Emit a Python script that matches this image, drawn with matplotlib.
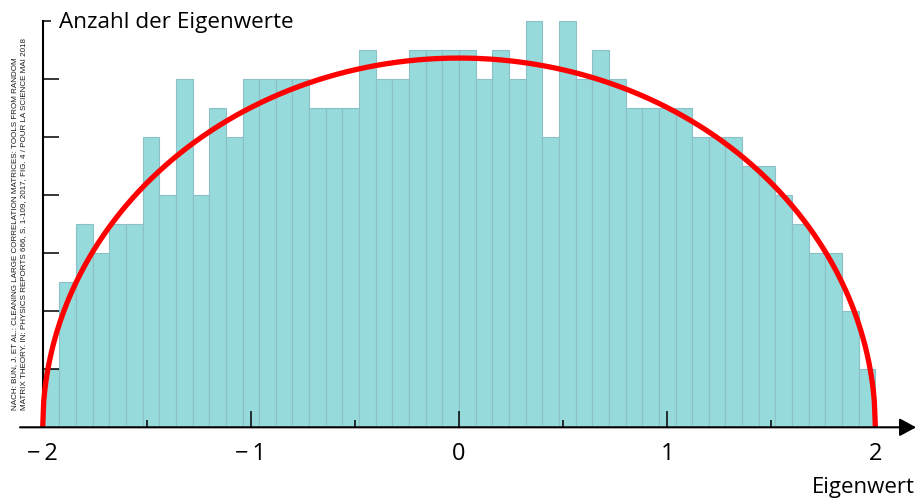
import numpy as np
import matplotlib
matplotlib.use('Agg')
import matplotlib.pyplot as plt
from matplotlib import font_manager

# ---------------- data ----------------
counts = [2, 5, 7, 6, 7, 7, 10, 8, 12, 8, 11, 10, 12, 12, 12, 12, 11, 11, 11, 13,
          12, 12, 13, 13, 13, 13, 12, 13, 12, 14, 10, 14, 12, 13, 12, 11, 11, 11, 11, 10,
          10, 10, 9, 9, 8, 7, 6, 6, 4, 2]
edge_lo, edge_hi = -2.0, 2.0
xtick_vals = [-2, -1, 0, 1, 2]
xtick_labels = ['\u2212\u20092', '\u2212\u20091', '0', '1', '2']
xminor_vals = [-1.5, -0.5, 0.5, 1.5]
ytick_vals = [2, 4, 6, 8, 10, 12]
ytop_val = 14
title = 'Anzahl der Eigenwerte'
xlabel = 'Eigenwert'
source_lines = [
    'NACH: BUN, J. ET AL.: CLEANING LARGE CORRELATION MATRICES: TOOLS FROM RANDOM',
    'MATRIX THEORY. IN: PHYSICS REPORTS 666, S. 1-109, 2017, FIG. 4 / POUR LA SCIENCE MAI 2018',
]

# ---------------- fonts ----------------
names = {f.name for f in font_manager.fontManager.ttflist}
main_font = ['Open Sans', 'Liberation Sans', 'DejaVu Sans']
narrow_font = ['Liberation Sans Narrow', 'Liberation Sans', 'DejaVu Sans'] \
    if 'Liberation Sans Narrow' in names else ['Liberation Sans', 'DejaVu Sans']
plt.rcParams['font.family'] = main_font

W, H = 917, 498
fig = plt.figure(figsize=(W / 100, H / 100), dpi=100)
ax = fig.add_axes([20 / W, 70.7 / H, (W - 20) / W, (H - 70.7) / H])
ax.set_xlim(-2.109, 2.2)
ax.set_ylim(0, (H - 70.7) / 29.0)

counts_arr = np.array(counts, dtype=float)
edges = np.linspace(edge_lo, edge_hi, len(counts) + 1)
bw = edges[1] - edges[0]
centers = (edges[:-1] + edges[1:]) / 2
ax.bar(centers, counts_arr, width=bw, color='#96DADB', edgecolor='#8CC0C6',
       linewidth=0.8, zorder=1)

# Wigner semicircle (radius 2) scaled to the histogram
xs = np.linspace(edge_lo, edge_hi, 800)
ys = counts_arr.sum() * bw * np.sqrt(np.clip(4 - xs ** 2, 0, None)) / (2 * np.pi)
ax.plot(xs, ys, color='#FF0000', lw=3.8, zorder=3, solid_capstyle='butt')

# spines
for s in ['top', 'right', 'bottom']:
    ax.spines[s].set_visible(False)
ax.spines['left'].set_position(('data', -2))
ax.spines['left'].set_bounds(0, ytop_val)
ax.spines['left'].set_linewidth(1.5)
ax.spines['left'].set_zorder(2.5)

# x axis arrow
ax.annotate('', xy=(0.999, 0), xycoords=('axes fraction', 'data'),
            xytext=(0.0, 0), textcoords=('axes fraction', 'data'),
            arrowprops=dict(arrowstyle='-|>,head_length=0.5,head_width=0.27',
                            color='black', lw=1.5, shrinkA=0, shrinkB=0,
                            mutation_scale=20),
            annotation_clip=False, zorder=4)

ax.set_xticks(xtick_vals, xtick_labels)
ax.set_xticks(xminor_vals, minor=True)
ax.tick_params(axis='x', which='major', direction='in', length=11.3, width=1.1,
               labelsize=17, pad=10.5)
ax.tick_params(axis='x', which='minor', direction='in', length=5.0, width=1.1)
ax.set_yticks(ytick_vals)
ax.set_yticks([ytop_val], minor=True)
ax.tick_params(axis='y', which='major', direction='in', length=11.5, width=1.1,
               labelleft=False)
ax.tick_params(axis='y', which='minor', direction='in', length=5.5, width=1.1,
               labelleft=False)

fig.text(59 / W, 1 - 28.3 / H, title, fontsize=16.2, ha='left', va='baseline')
fig.text(915 / W, 1 - 493.3 / H, xlabel, fontsize=16, ha='right', va='baseline')

# source text (rotated)
src = []
for xc, line in zip([15, 24], source_lines):
    t = fig.text(xc / W, 1 - 410 / H, line, rotation=90, rotation_mode='anchor',
                 ha='left', va='center', fontsize=6.5, family=narrow_font,
                 color='#1a1a1a')
    src.append(t)
fig.canvas.draw()
r = fig.canvas.get_renderer()
bb = src[1].get_window_extent(r)
scale = 372.0 / bb.height
for t in src:
    t.set_fontsize(6.5 * scale)

fig.savefig('out.png', dpi=100)
